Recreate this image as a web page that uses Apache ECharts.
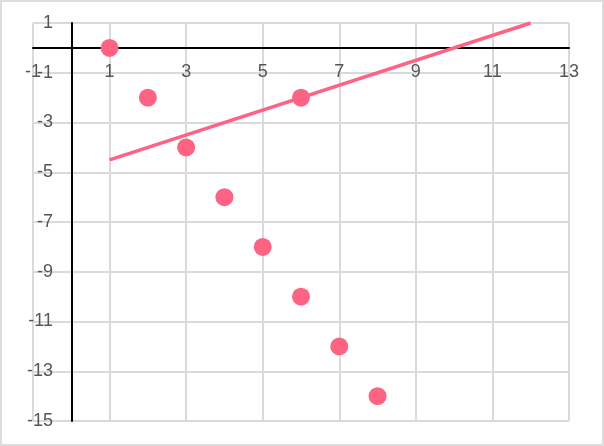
<!DOCTYPE html>
<html>
<head>
<meta charset="utf-8">
<script src="https://cdn.jsdelivr.net/npm/echarts@6/dist/echarts.min.js"></script>
<style>
  html, body { margin: 0; padding: 0; background: #fff; }
  #chart {
    width: 604px;
    height: 446px;
    box-sizing: border-box;
    border: 2px solid #dddddd;
  }
</style>
</head>
<body>
<div id="chart"></div>
<script>
  // data points
  var pointX = [1, 2, 3, 4, 5, 6, 7, 8, 6];
  var pointY = [0, -2, -4, -6, -8, -10, -12, -14, -2];
  // fitted line end points
  var lineX = [1, 12];
  var lineY = [-4.5, 1];

  var pink = '#ff6384';
  var font = 'Liberation Sans, Arial, sans-serif';

  var myChart = echarts.init(document.getElementById('chart'));

  var option = {
    animation: false,
    grid: { left: 31, right: 33, top: 21, bottom: 23, containLabel: false, outerBoundsMode: 'none' },
    xAxis: {
      type: 'value',
      position: 'top',
      min: -1,
      max: 13,
      interval: 2,
      axisLine: { show: true, onZero: true, lineStyle: { color: '#000', width: 2 } },
      axisTick: { show: false },
      // labels sit just under the zero line, like the original
      axisLabel: {
        inside: true,
        color: '#555',
        fontSize: 18,
        fontFamily: font,
        margin: 40,
        verticalAlign: 'top'
      },
      splitLine: { show: true, lineStyle: { color: '#dadada', width: 2 } }
    },
    yAxis: {
      type: 'value',
      min: -15,
      max: 1,
      interval: 2,
      axisLine: { show: true, onZero: true, lineStyle: { color: '#000', width: 2 } },
      axisTick: { show: false },
      axisLabel: {
        color: '#555',
        fontSize: 18,
        fontFamily: font,
        margin: -20,
        align: 'right'
      },
      splitLine: { show: true, lineStyle: { color: '#dadada', width: 2 } }
    },
    series: [
      {
        type: 'line',
        data: lineX.map(function (x, i) { return [x, lineY[i]]; }),
        symbol: 'none',
        lineStyle: { color: pink, width: 3.5 },
        z: 2
      },
      {
        type: 'scatter',
        data: pointX.map(function (x, i) { return [x, pointY[i]]; }),
        symbolSize: 18,
        itemStyle: { color: pink, opacity: 1 },
        z: 3
      }
    ]
  };

  myChart.setOption(option);
</script>
</body>
</html>
